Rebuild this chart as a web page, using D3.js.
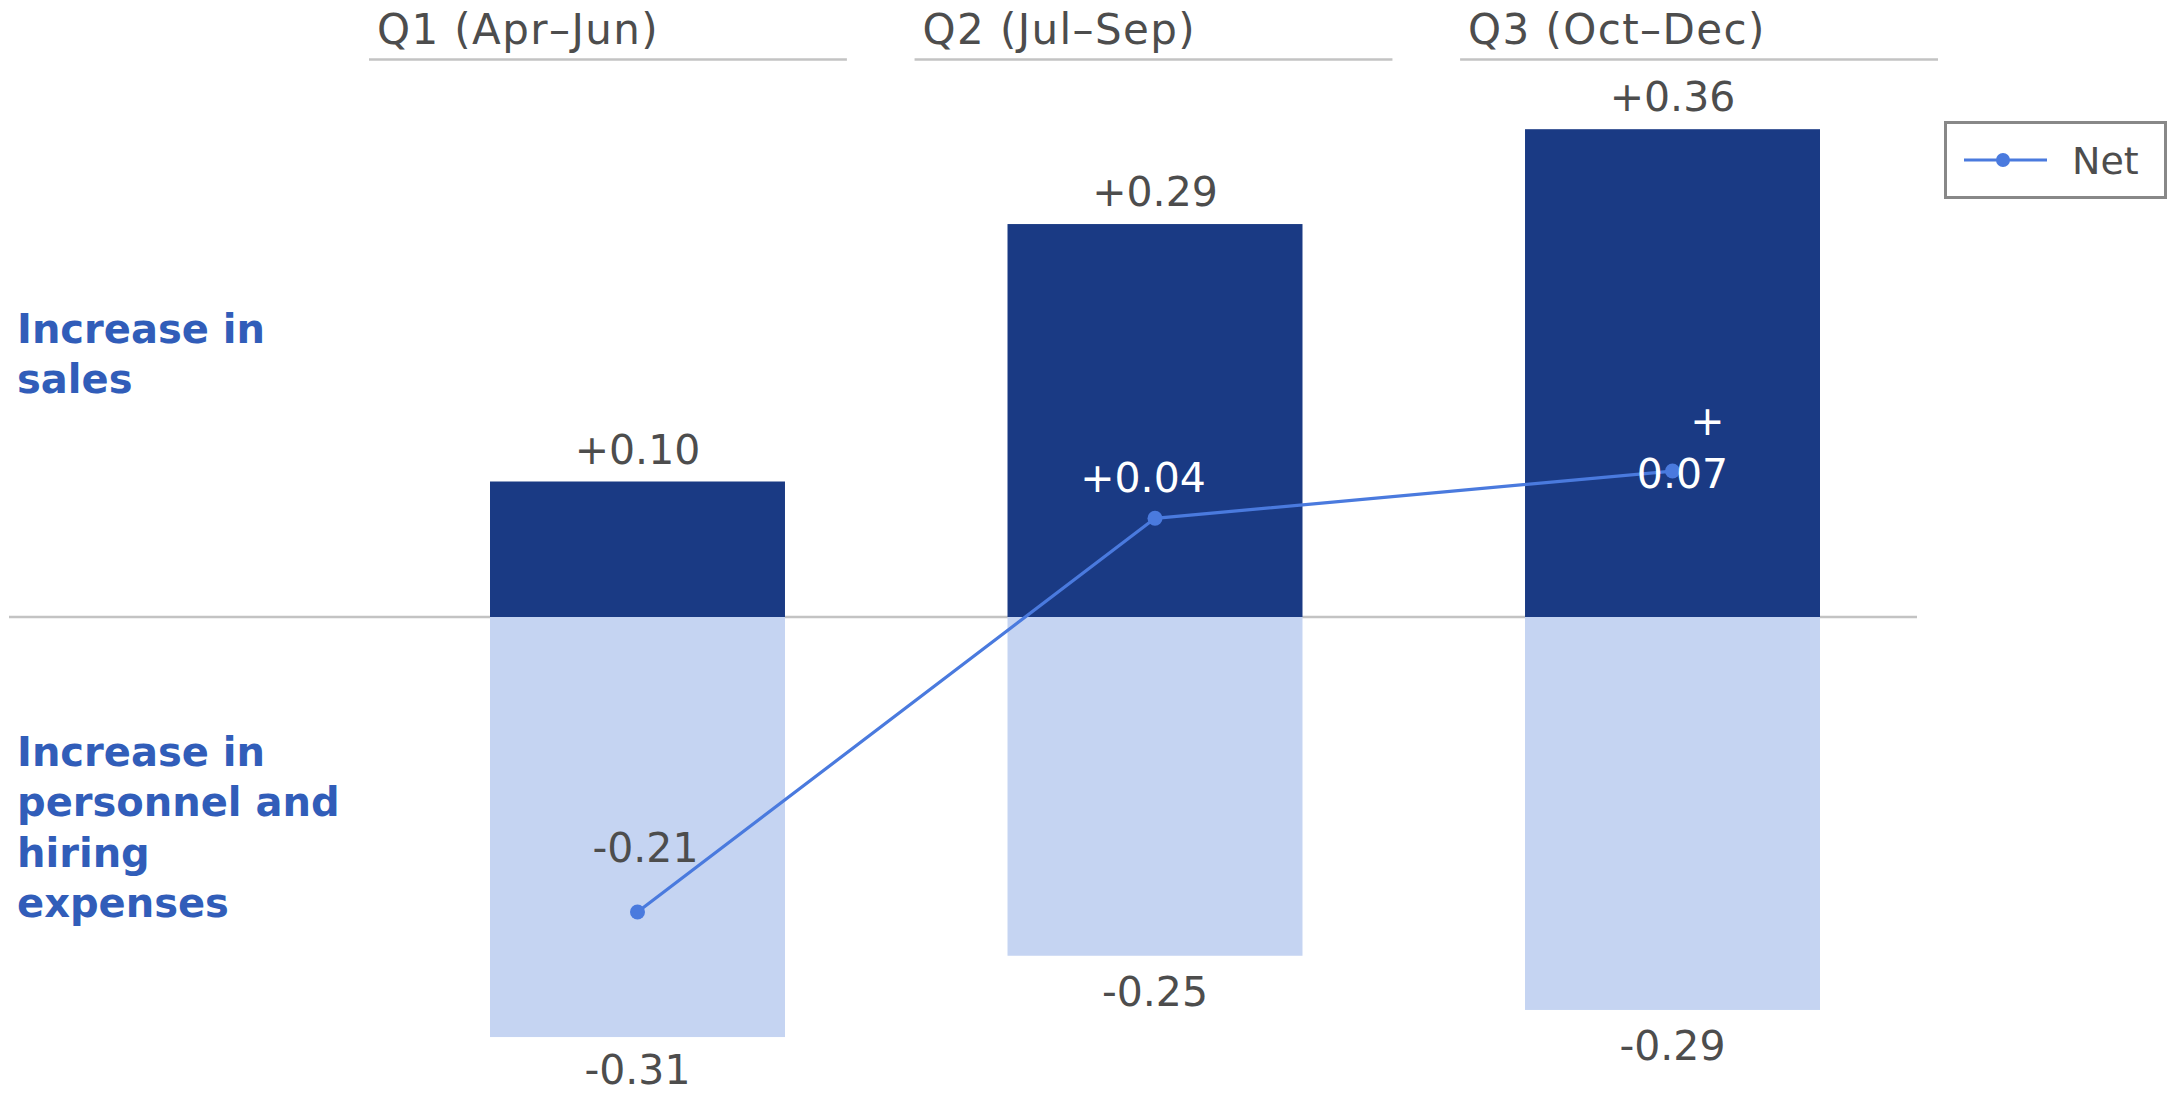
<!DOCTYPE html>
<html>
<head>
<meta charset="utf-8">
<script src="https://cdn.jsdelivr.net/npm/d3@7"></script>
<style>
  html, body { margin: 0; padding: 0; background: #ffffff; }
  svg { display: block; font-family: "DejaVu Sans", Verdana, sans-serif; }
</style>
</head>
<body>
<svg id="chart" width="2169" height="1095"></svg>
<script>
// Quarter categories and their header labels
const quarters = ["Q1", "Q2", "Q3"];
const quarterLabels = ["Q1 (Apr\u2013Jun)", "Q2 (Jul\u2013Sep)", "Q3 (Oct\u2013Dec)"];

// Series values
const salesIncrease = [0.10, 0.29, 0.36];
const costIncrease = [-0.31, -0.25, -0.29];
const netValues = [-0.21, 0.04, 0.07];

// Row captions on the left
const upperCaption = ["Increase in", "sales"];
const lowerCaption = ["Increase in", "personnel and", "hiring", "expenses"];

const legendLabel = "Net";

const COLORS = {
  sales: "#1a3a84",
  cost: "#c5d4f2",
  net: "#4a7ade",
  text: "#4d4d4d",
  caption: "#315db9",
  rule: "#c3c3c3",
  legendBorder: "#888888"
};

const svg = d3.select("#chart");

// Horizontal placement of the three quarter columns
const x = d3.scaleBand()
  .domain(quarters)
  .range([490, 1820])
  .paddingInner(0.43)
  .paddingOuter(0);

// Header columns are wider than the bars
const xHeader = d3.scaleBand()
  .domain(quarters)
  .range([369, 1938])
  .paddingInner(0.124);

// Bar value scale
const y = d3.scaleLinear().domain([-0.4, 0.4]).range([1159, 75]);
// Net line sits on its own secondary scale
const yNet = d3.scaleLinear().domain([-0.4, 0.4]).range([1211.3, -48.7]);

const fmt = v => (v > 0 ? "+" : "-") + Math.abs(v).toFixed(2);

// Quarter headers with underline rules
const header = svg.append("g").attr("class", "headers");
header.selectAll("line")
  .data(quarters)
  .join("line")
  .attr("x1", d => xHeader(d))
  .attr("x2", d => xHeader(d) + xHeader.bandwidth())
  .attr("y1", 59.5).attr("y2", 59.5)
  .attr("stroke", COLORS.rule)
  .attr("stroke-width", 2.5);
header.selectAll("text")
  .data(quarters)
  .join("text")
  .attr("x", d => xHeader(d) + 8)
  .attr("y", 43.5)
  .attr("font-size", 42)
  .attr("letter-spacing", 1.4)
  .attr("fill", COLORS.text)
  .text((d, i) => quarterLabels[i]);

// Zero baseline
svg.append("line")
  .attr("x1", 9).attr("x2", 1917)
  .attr("y1", y(0)).attr("y2", y(0))
  .attr("stroke", COLORS.rule)
  .attr("stroke-width", 2.5);

// Sales bars (positive)
svg.append("g").selectAll("rect")
  .data(quarters)
  .join("rect")
  .attr("x", d => x(d))
  .attr("width", x.bandwidth())
  .attr("y", (d, i) => y(salesIncrease[i]))
  .attr("height", (d, i) => y(0) - y(salesIncrease[i]))
  .attr("fill", COLORS.sales);

// Cost bars (negative)
svg.append("g").selectAll("rect")
  .data(quarters)
  .join("rect")
  .attr("x", d => x(d))
  .attr("width", x.bandwidth())
  .attr("y", y(0))
  .attr("height", (d, i) => y(costIncrease[i]) - y(0))
  .attr("fill", COLORS.cost);

// Bar value labels
svg.append("g").selectAll("text")
  .data(quarters)
  .join("text")
  .attr("x", d => x(d) + x.bandwidth() / 2)
  .attr("y", (d, i) => y(salesIncrease[i]) - 18)
  .attr("text-anchor", "middle")
  .attr("font-size", 41)
  .attr("fill", COLORS.text)
  .text((d, i) => fmt(salesIncrease[i]));

svg.append("g").selectAll("text")
  .data(quarters)
  .join("text")
  .attr("x", d => x(d) + x.bandwidth() / 2)
  .attr("y", (d, i) => Math.min(y(costIncrease[i]) + 50, 1084))
  .attr("text-anchor", "middle")
  .attr("font-size", 41)
  .attr("fill", COLORS.text)
  .text((d, i) => fmt(costIncrease[i]));

// Net line with markers
const cx = d => x(d) + x.bandwidth() / 2;
const netLine = d3.line()
  .x(d => cx(d))
  .y((d, i) => yNet(netValues[i]));

svg.append("path")
  .datum(quarters)
  .attr("d", netLine)
  .attr("fill", "none")
  .attr("stroke", COLORS.net)
  .attr("stroke-width", 3.2);

svg.append("g").selectAll("circle")
  .data(quarters)
  .join("circle")
  .attr("cx", cx)
  .attr("cy", (d, i) => yNet(netValues[i]))
  .attr("r", 7.5)
  .attr("fill", COLORS.net);

// Net labels: offsets from each marker; the last one wraps its sign onto its own line
const netLabelOffsets = [[8, -50], [-12, -26], [10, 17]];
const netLabels = svg.append("g");
quarters.forEach((q, i) => {
  const px = cx(q), py = yNet(netValues[i]);
  const [dx, dy] = netLabelOffsets[i];
  const onDark = py + dy < y(0);
  const t = netLabels.append("text")
    .attr("text-anchor", "middle")
    .attr("font-size", 41)
    .attr("fill", onDark ? "#ffffff" : COLORS.text);
  const label = fmt(netValues[i]);
  if (i === 2) {
    t.append("tspan").attr("x", px + dx + 25).attr("y", py + dy - 53).text(label.slice(0, 1));
    t.append("tspan").attr("x", px + dx).attr("y", py + dy).text(label.slice(1));
  } else {
    t.attr("x", px + dx).attr("y", py + dy).text(label);
  }
});

// Left captions
function caption(lines, firstBaseline) {
  const t = svg.append("text")
    .attr("font-size", 40)
    .attr("font-weight", "bold")
    .attr("fill", COLORS.caption);
  lines.forEach((line, i) => {
    t.append("tspan").attr("x", 17).attr("y", firstBaseline + i * 50.3).text(line);
  });
}
caption(upperCaption, 343);
caption(lowerCaption, 766);

// Legend
const legend = svg.append("g");
legend.append("rect")
  .attr("x", 1945.5).attr("y", 122.5)
  .attr("width", 220).attr("height", 75)
  .attr("fill", "#ffffff")
  .attr("stroke", COLORS.legendBorder)
  .attr("stroke-width", 3);
legend.append("line")
  .attr("x1", 1964).attr("x2", 2047)
  .attr("y1", 160).attr("y2", 160)
  .attr("stroke", COLORS.net)
  .attr("stroke-width", 3);
legend.append("circle")
  .attr("cx", 2003).attr("cy", 160).attr("r", 7)
  .attr("fill", COLORS.net);
legend.append("text")
  .attr("x", 2072).attr("y", 174)
  .attr("font-size", 38)
  .attr("fill", COLORS.text)
  .text(legendLabel);
</script>
</body>
</html>
